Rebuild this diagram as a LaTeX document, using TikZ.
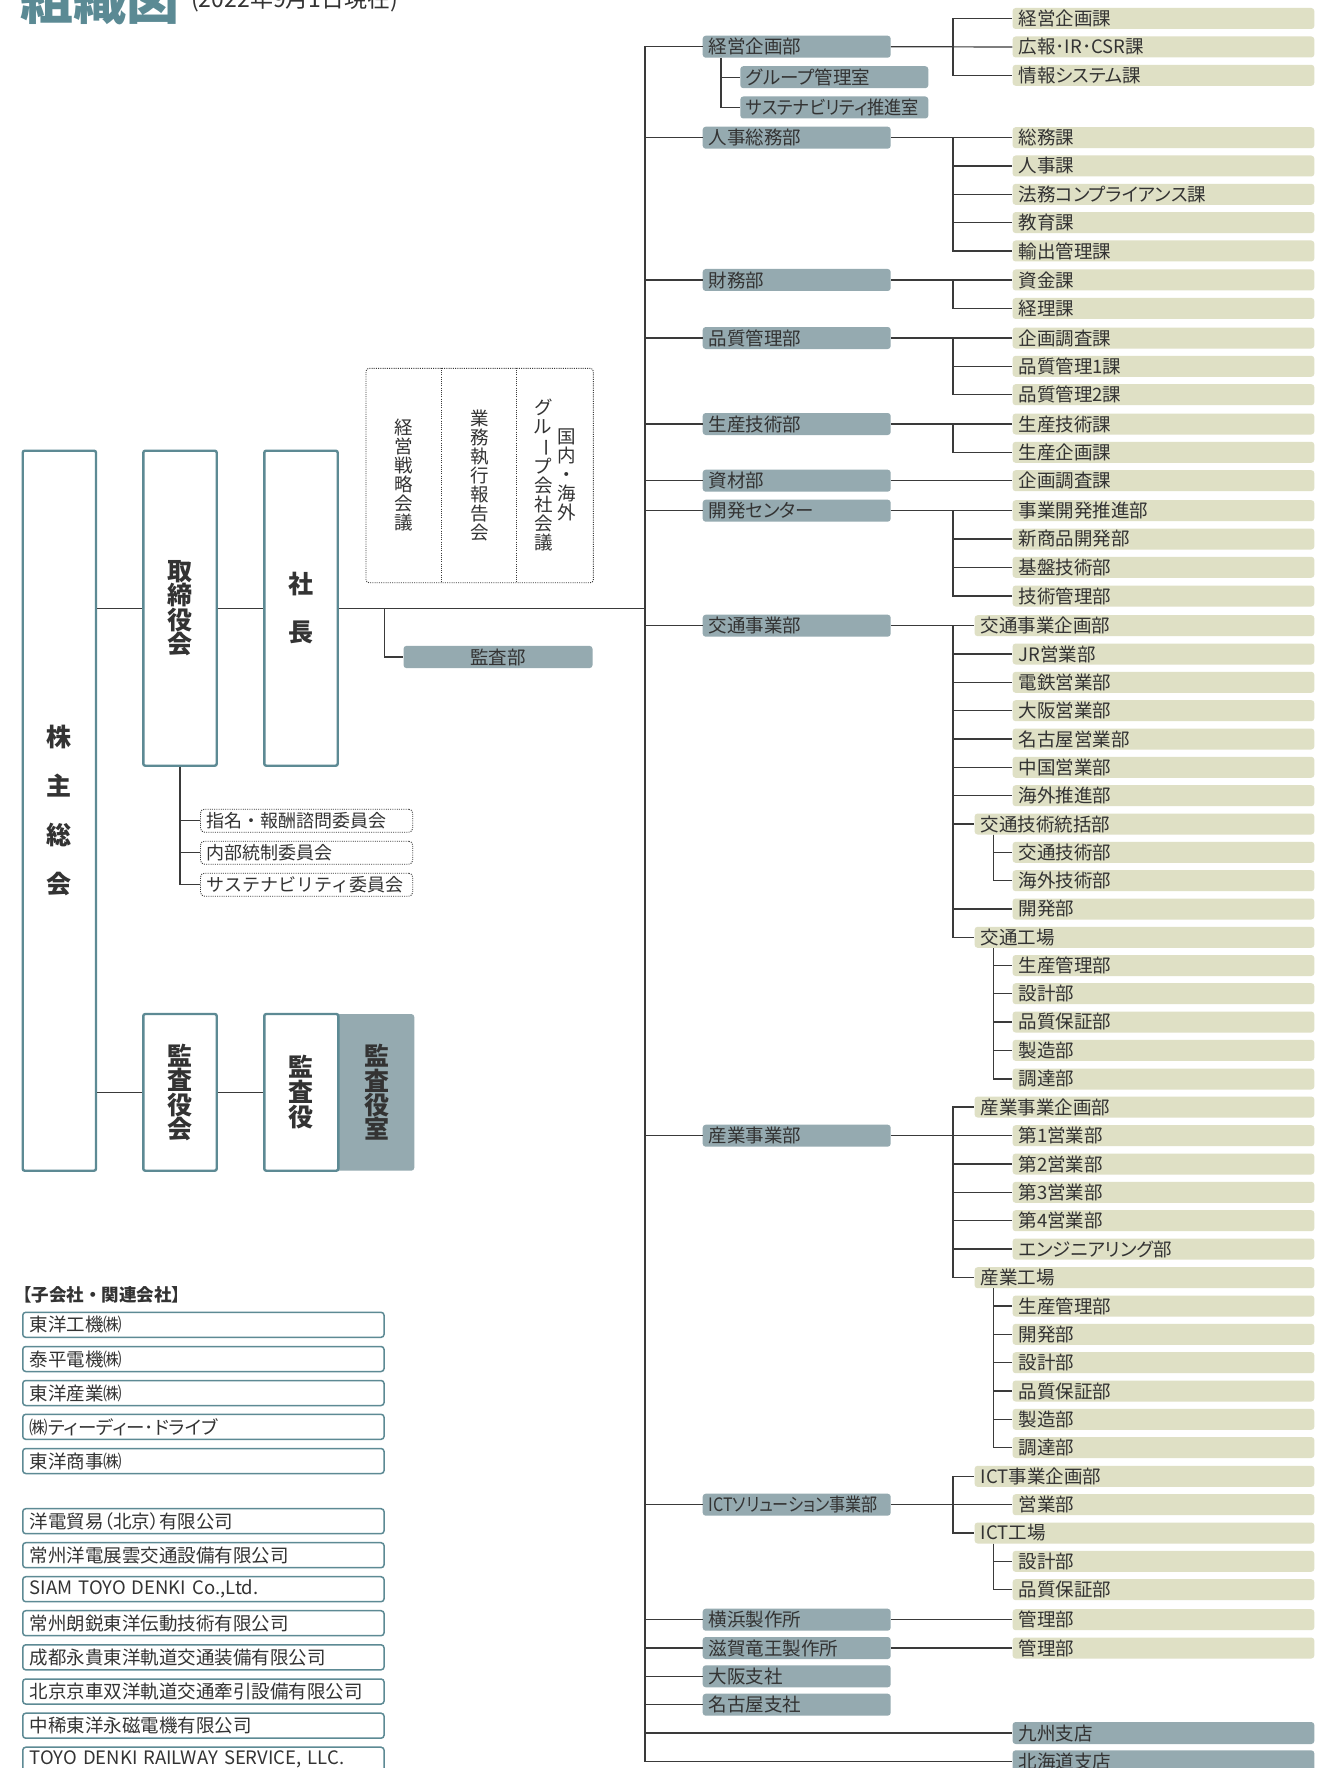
\documentclass[tikz,border=0pt]{standalone}
\usepackage{fontspec}
\usepackage{graphicx}
\setmainfont{Noto Sans CJK JP}[RawFeature=+palt]
\newfontfamily\fullw{Noto Sans CJK JP}
\definecolor{tealb}{HTML}{5D8A94}
\definecolor{titlec}{HTML}{5B8A94}
\definecolor{deptgrey}{HTML}{95AAB0}
\definecolor{beige}{HTML}{DFE0C5}
\definecolor{txt}{HTML}{333333}
\definecolor{linec}{HTML}{3A3A3A}
\begin{document}
\begin{tikzpicture}[x=1pt,y=-1pt,
  conn/.style={draw=linec, line width=1.2pt},
  dept/.style={fill=deptgrey, rounded corners=3pt, anchor=west, inner xsep=6pt, inner ysep=0pt,
    minimum height=22pt, text width=176pt, align=left, font=\fontsize{18.5}{20}\selectfont, text=txt},
  sect/.style={fill=beige, rounded corners=3pt, anchor=west, inner xsep=6pt, inner ysep=0pt,
    minimum height=21pt, text width=289.7pt, align=left, font=\fontsize{18.5}{20}\selectfont, text=txt},
  sectw/.style={sect, text width=327.7pt},
  gsect/.style={sect, fill=deptgrey, minimum height=22pt},
  bigbox/.style={draw=tealb, line width=2.4pt, fill=white, rounded corners=2pt, inner sep=0pt,
    align=center, text=txt},
  comm/.style={draw=linec, line width=0.9pt, dash pattern=on 1pt off 1.2pt, rounded corners=4pt,
    anchor=west, inner xsep=6pt, inner ysep=0pt, minimum height=23pt, text width=200.3pt, align=left,
    font=\fullw\fontsize{18}{20}\selectfont, text=txt},
  comp/.style={draw=tealb, line width=1.5pt, rounded corners=3pt, anchor=west, inner xsep=7pt,
    inner ysep=0pt, minimum height=25pt, text width=347.3pt, align=left,
    font=\fontsize{18.5}{20}\selectfont, text=txt},
  vtext/.style={inner sep=0pt, align=center, text=txt, font=\fontsize{18.5}{19}\selectfont},
  dotline/.style={draw=linec, line width=0.9pt, dash pattern=on 1pt off 1.2pt}
]
\useasboundingbox (0,0) rectangle (1341,1768);
\clip (0,0) rectangle (1341,1768);
\fill[white] (0,0) rectangle (1341,1768);

% title
\node[anchor=base west, inner sep=0pt, font=\bfseries\fontsize{53}{53}\selectfont, text=titlec] (title) at (20,20) {組織図};
\node[anchor=base west, inner sep=0pt, font=\fontsize{23}{23}\selectfont, text=txt] (date) at (191,7.5) {(2022年9月1日現在)};

% coordinates of buses
\coordinate (tx) at (645,0);
\coordinate (bx) at (953,0);
\coordinate (sx) at (993.2,0);
\coordinate (gx) at (720.9,0);
\coordinate (ax) at (384.3,0);

% left governance boxes
\node[bigbox, minimum width=73.3pt, minimum height=720pt, font=\bfseries\fontsize{25}{49}\selectfont] (kabu) at (59.35,810.7) {株\\主\\総\\会};
\node[bigbox, minimum width=73.4pt, minimum height=315pt, font=\bfseries\fontsize{25}{24.6}\selectfont] (tori) at (180,608.2) {取\\締\\役\\会};
\node[bigbox, minimum width=73.4pt, minimum height=315pt, font=\bfseries\fontsize{25}{48}\selectfont] (shacho) at (301,608.2) {社\\長};
\node[bigbox, minimum width=73.4pt, minimum height=156.7pt, font=\bfseries\fontsize{25}{24.4}\selectfont] (kansakai) at (180,1092.35) {監\\査\\役\\会};
\node[fill=deptgrey, rounded corners=3pt, inner sep=0pt, minimum width=78.3pt, minimum height=156.7pt, align=center, text=txt, font=\bfseries\fontsize{25}{24.4}\selectfont] (kansashitsu) at (375.15,1092.35) {\hspace*{3pt}監\\\hspace*{3pt}査\\\hspace*{3pt}役\\\hspace*{3pt}室};
\node[bigbox, minimum width=74pt, minimum height=156.7pt, font=\bfseries\fontsize{25}{25}\selectfont] (kansayaku) at (301.3,1092.35) {監\\査\\役};

\draw[conn] (tori.west -| kabu.east) -- (tori.west);
\draw[conn] (tori.east) -- (shacho.west);
\draw[conn] (kansakai.west -| kabu.east) -- (kansakai.west);
\draw[conn] (kansakai.east) -- (kansayaku.west);

% committees
\node[comm] (c1) at (200,820.7) {指名・報酬諮問委員会};
\node[comm] (c2) at (200,852.7) {内部統制委員会};
\node[comm] (c3) at (200,884.7) {サステナビリティ委員会};
\foreach \n in {c1,c2,c3} \draw[conn] (tori.south) |- (\n.west);

% meetings box
\node[draw=linec, line width=0.9pt, dash pattern=on 1pt off 1.2pt, rounded corners=3pt, minimum width=227.3pt, minimum height=214.4pt, inner sep=0pt] (meet) at (479.65,475.5) {};
\draw[dotline] (meet.north west) ++(75.7,0) -- ++(0,214.4);
\draw[dotline] (meet.north west) ++(151.3,0) -- ++(0,214.4);
\node[vtext] (v1) at (403.8,475) {経\\営\\戦\\略\\会\\議};
\node[vtext] (v2) at (479.3,475) {業\\務\\執\\行\\報\\告\\会};
\node[vtext] (v3a) at (566.7,475) {国\\内\\・\\海\\外};
\node[vtext] (v3b) at (543.3,475) {グ\\ル\\\rotatebox[origin=c]{-90}{ー}\\プ\\会\\社\\会\\議};

% 監査部
\node[fill=deptgrey, rounded corners=3pt, anchor=west, inner sep=0pt, minimum width=189pt, minimum height=22.3pt, text=txt, font=\fontsize{18.5}{20}\selectfont] (kansabu) at (403.3,657) {監査部};
\draw[conn] (shacho.east) -- (tx |- shacho.east);
\draw[conn] (ax |- shacho.east) |- (kansabu.west);

% departments
\node[dept] (dKe) at (702.5,46.7) {経営企画部};
\node[dept] (dJi) at (702.5,137.7) {人事総務部};
\node[dept] (dZa) at (702.5,280) {財務部};
\node[dept] (dHi) at (702.5,338) {品質管理部};
\node[dept] (dSe) at (702.5,424) {生産技術部};
\node[dept] (dSz) at (702.5,480.7) {資材部};
\node[dept] (dKa) at (702.5,510.7) {開発センター};
\node[dept] (dKo) at (702.5,625.7) {交通事業部};
\node[dept] (dSa) at (702.5,1135.7) {産業事業部};
\node[dept] (dIc) at (702.5,1504.7) {\scalebox{0.87}[1]{ICTソリューション事業部}};
\node[dept] (dYo) at (702.5,1619.7) {横浜製作所};
\node[dept] (dSh) at (702.5,1648) {滋賀竜王製作所};
\node[dept] (dOs) at (702.5,1676.3) {大阪支社};
\node[dept] (dNa) at (702.5,1704.7) {名古屋支社};
\node[dept] (grp) at (740.1,77.2) {グループ管理室};
\node[dept] (sus) at (740.1,107.5) {\scalebox{0.93}[1]{サステナビリティ推進室}};

% sections
\node[sect] (k1) at (1012.4,18.5) {経営企画課};
\node[sect] (k2) at (1012.4,47) {広報･IR･CSR課};
\node[sect] (k3) at (1012.4,75.3) {情報システム課};
\node[sect] (j1) at (1012.4,137.7) {総務課};
\node[sect] (j2) at (1012.4,166) {人事課};
\node[sect] (j3) at (1012.4,194.3) {法務コンプライアンス課};
\node[sect] (j4) at (1012.4,222.6) {教育課};
\node[sect] (j5) at (1012.4,251) {輸出管理課};
\node[sect] (z1) at (1012.4,280) {資金課};
\node[sect] (z2) at (1012.4,308.5) {経理課};
\node[sect] (q1) at (1012.4,338) {企画調査課};
\node[sect] (q2) at (1012.4,366.3) {品質管理1課};
\node[sect] (q3) at (1012.4,394.7) {品質管理2課};
\node[sect] (p1) at (1012.4,424) {生産技術課};
\node[sect] (p2) at (1012.4,452.3) {生産企画課};
\node[sect] (m1) at (1012.4,480.7) {企画調査課};
\node[sect] (r1) at (1012.4,510.7) {事業開発推進部};
\node[sect] (r2) at (1012.4,539) {新商品開発部};
\node[sect] (r3) at (1012.4,567.3) {基盤技術部};
\node[sect] (r4) at (1012.4,596) {技術管理部};
\node[sectw] (t1) at (974.4,625.7) {交通事業企画部};
\node[sect] (t2) at (1012.4,654) {JR営業部};
\node[sect] (t3) at (1012.4,682.3) {電鉄営業部};
\node[sect] (t4) at (1012.4,710.7) {大阪営業部};
\node[sect] (t5) at (1012.4,739) {名古屋営業部};
\node[sect] (t6) at (1012.4,767.3) {中国営業部};
\node[sect] (t7) at (1012.4,795.7) {海外推進部};
\node[sectw] (t8) at (974.4,824) {交通技術統括部};
\node[sect] (t9) at (1012.4,852.3) {交通技術部};
\node[sect] (t10) at (1012.4,880.7) {海外技術部};
\node[sect] (t11) at (1012.4,909) {開発部};
\node[sectw] (t12) at (974.4,937.3) {交通工場};
\node[sect] (t13) at (1012.4,965.5) {生産管理部};
\node[sect] (t14) at (1012.4,993.7) {設計部};
\node[sect] (t15) at (1012.4,1022) {品質保証部};
\node[sect] (t16) at (1012.4,1050.3) {製造部};
\node[sect] (t17) at (1012.4,1079) {調達部};
\node[sectw] (s1) at (974.4,1107) {産業事業企画部};
\node[sect] (s2) at (1012.4,1135.7) {第1営業部};
\node[sect] (s3) at (1012.4,1164) {第2営業部};
\node[sect] (s4) at (1012.4,1192.3) {第3営業部};
\node[sect] (s5) at (1012.4,1220.7) {第4営業部};
\node[sect] (s6) at (1012.4,1249) {エンジニアリング部};
\node[sectw] (s7) at (974.4,1277.7) {産業工場};
\node[sect] (s8) at (1012.4,1306) {生産管理部};
\node[sect] (s9) at (1012.4,1334.3) {開発部};
\node[sect] (s10) at (1012.4,1362.7) {設計部};
\node[sect] (s11) at (1012.4,1391) {品質保証部};
\node[sect] (s12) at (1012.4,1419.3) {製造部};
\node[sect] (s13) at (1012.4,1447.5) {調達部};
\node[sectw] (i1) at (974.4,1476.3) {ICT事業企画部};
\node[sect] (i2) at (1012.4,1504.7) {営業部};
\node[sectw] (i3) at (974.4,1533) {ICT工場};
\node[sect] (i4) at (1012.4,1561.3) {設計部};
\node[sect] (i5) at (1012.4,1589.7) {品質保証部};
\node[sect] (y1) at (1012.4,1619.7) {管理部};
\node[sect] (g1) at (1012.4,1648) {管理部};
\node[gsect] (kyu) at (1012.4,1733) {九州支店};
\node[gsect] (hok) at (1012.4,1761.3) {北海道支店};

% trunk
\draw[conn] (dKe.west) -- (tx |- dKe.west) -- (tx |- hok.west) -- (hok.west);
\foreach \n in {dJi,dZa,dHi,dSe,dSz,dKa,dKo,dSa,dIc,dYo,dSh,dOs,dNa,kyu}
  \draw[conn] (tx |- \n.west) -- (\n.west);

% 経営企画部
\draw[conn] (dKe.east) -- (k2.west);
\foreach \n in {k1,k3} \draw[conn] (bx |- dKe.east) |- (\n.west);
\foreach \n in {grp,sus} \draw[conn] (gx |- dKe.south) |- (\n.west);
% 人事総務部
\draw[conn] (dJi.east) -- (j1.west);
\foreach \n in {j2,j3,j4,j5} \draw[conn] (bx |- dJi.east) |- (\n.west);
% 財務部
\draw[conn] (dZa.east) -- (z1.west);
\draw[conn] (bx |- dZa.east) |- (z2.west);
% 品質管理部
\draw[conn] (dHi.east) -- (q1.west);
\foreach \n in {q2,q3} \draw[conn] (bx |- dHi.east) |- (\n.west);
% 生産技術部
\draw[conn] (dSe.east) -- (p1.west);
\draw[conn] (bx |- dSe.east) |- (p2.west);
% 資材部
\draw[conn] (dSz.east) -- (m1.west);
% 開発センター
\draw[conn] (dKa.east) -- (r1.west);
\foreach \n in {r2,r3,r4} \draw[conn] (bx |- dKa.east) |- (\n.west);
% 交通事業部
\draw[conn] (dKo.east) -- (t1.west);
\foreach \n in {t2,t3,t4,t5,t6,t7,t8,t11,t12} \draw[conn] (bx |- dKo.east) |- (\n.west);
\foreach \n in {t9,t10} \draw[conn] (sx |- t8.south) |- (\n.west);
\foreach \n in {t13,t14,t15,t16,t17} \draw[conn] (sx |- t12.south) |- (\n.west);
% 産業事業部
\draw[conn] (dSa.east) -- (s2.west);
\foreach \n in {s1,s3,s4,s5,s6,s7} \draw[conn] (bx |- dSa.east) |- (\n.west);
\foreach \n in {s8,s9,s10,s11,s12,s13} \draw[conn] (sx |- s7.south) |- (\n.west);
% ICT
\draw[conn] (dIc.east) -- (i2.west);
\foreach \n in {i1,i3} \draw[conn] (bx |- dIc.east) |- (\n.west);
\foreach \n in {i4,i5} \draw[conn] (sx |- i3.south) |- (\n.west);
% 製作所
\draw[conn] (dYo.east) -- (y1.west);
\draw[conn] (dSh.east) -- (g1.west);

% subsidiaries
\node[anchor=west, inner sep=0pt, font=\fullw\bfseries\fontsize{17.5}{18}\selectfont, text=txt] (hdr) at (14,1295) {【子会社・関連会社】};
\node[comp] (a1) at (22,1324.8) {東洋工機㈱};
\node[comp] (a2) at (22,1359) {泰平電機㈱};
\node[comp] (a3) at (22,1393) {東洋産業㈱};
\node[comp] (a4) at (22,1426.8) {㈱ティーディー･ドライブ};
\node[comp] (a5) at (22,1461) {東洋商事㈱};
\node[comp] (b1) at (22,1521.2) {洋電貿易（北京）有限公司};
\node[comp] (b2) at (22,1555.2) {常州洋電展雲交通設備有限公司};
\node[comp] (b3) at (22,1589.2) {SIAM TOYO DENKI Co.,Ltd.};
\node[comp] (b4) at (22,1623.2) {常州朗鋭東洋伝動技術有限公司};
\node[comp] (b5) at (22,1657.3) {成都永貴東洋軌道交通装備有限公司};
\node[comp] (b6) at (22,1691.5) {北京京車双洋軌道交通牽引設備有限公司};
\node[comp] (b7) at (22,1725.7) {中稀東洋永磁電機有限公司};
\node[comp] (b8) at (22,1759.7) {TOYO DENKI RAILWAY SERVICE, LLC.};
\end{tikzpicture}
\end{document}
